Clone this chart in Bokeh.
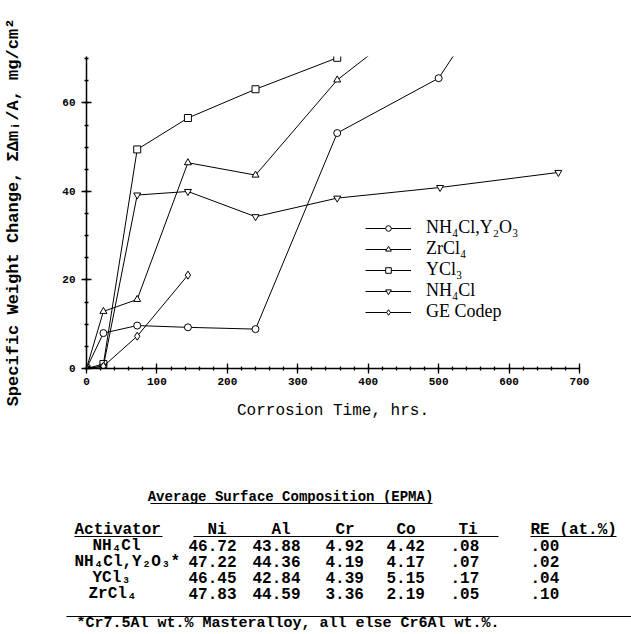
from bokeh.plotting import figure
from bokeh.models import Range1d, SingleIntervalTicker, Legend, LegendItem
from bokeh.embed import file_html
from bokeh.resources import INLINE
from bokeh.core.properties import value

# ---------------- data ----------------
t_y2o3 = [0, 24, 72, 144, 240, 356, 500, 672]
w_y2o3 = [0, 8.0, 9.7, 9.3, 8.9, 53.2, 65.6, 107.0]
t_zr = [0, 24, 72, 144, 240, 356, 500]
w_zr = [0, 12.9, 15.6, 46.5, 43.7, 65.2, 83.0]
t_ycl = [0, 24, 72, 144, 240, 356]
w_ycl = [0, 1.0, 49.5, 56.6, 63.1, 70.2]
t_nh = [0, 24, 72, 144, 240, 356, 502, 670]
w_nh = [0, 0.5, 39.2, 40.0, 34.3, 38.5, 40.9, 44.3]
t_ge = [0, 24, 72, 144]
w_ge = [0, 0.5, 7.3, 21.1]

series_names = ["NH₄Cl,Y₂O₃", "ZrCl₄", "YCl₃", "NH₄Cl", "GE Codep"]

table_title = "Average Surface Composition (EPMA)"
headers = ["Activator", "Ni", "Al", "Cr", "Co", "Ti", "RE (at.%)"]
activators = ["NH₄Cl", "NH₄Cl,Y₂O₃*", "YCl₃", "ZrCl₄"]
ni = [46.72, 47.22, 46.45, 47.83]
al = [43.88, 44.36, 42.84, 44.59]
cr = [4.92, 4.19, 4.39, 3.36]
co = [4.42, 4.17, 5.15, 2.19]
ti = [0.08, 0.07, 0.17, 0.05]
re = [0.00, 0.02, 0.04, 0.10]
footnote = "*Cr7.5Al wt.% Masteralloy, all else Cr6Al wt.%."

# ---------------- chart ----------------
MONO = "Liberation Mono"
SERIF = "Liberation Serif"

p = figure(width=631, height=440, output_backend="svg", toolbar_location=None,
           x_range=Range1d(0, 700), y_range=Range1d(0, 70.5),
           min_border_left=86, min_border_right=52, min_border_top=56,
           min_border_bottom=72)
p.outline_line_color = None
p.grid.visible = False
p.background_fill_color = "white"
p.border_fill_color = "white"

p.xaxis.ticker = SingleIntervalTicker(interval=100, num_minor_ticks=5)
p.yaxis.ticker = SingleIntervalTicker(interval=20, num_minor_ticks=4)
for ax in (p.xaxis, p.yaxis):
    ax.axis_line_width = 1.5
    ax.axis_line_color = "black"
    ax.major_tick_in = 5
    ax.major_tick_out = 5
    ax.minor_tick_in = 2
    ax.minor_tick_out = 2
    ax.major_tick_line_width = 1.3
    ax.minor_tick_line_width = 1.3
    ax.major_tick_line_color = "black"
    ax.minor_tick_line_color = "black"
    ax.major_label_text_font = MONO
    ax.major_label_text_font_style = "bold"
    ax.major_label_text_font_size = "11px"
    ax.major_label_text_color = "black"
    ax.axis_label_text_font = MONO
    ax.axis_label_text_color = "black"

p.xaxis.axis_label = "Corrosion Time, hrs."
p.xaxis.axis_label_text_font_style = "normal"
p.xaxis.axis_label_text_font_size = "16px"
p.xaxis.major_label_standoff = 4
p.xaxis.axis_label_standoff = 14
p.yaxis.axis_label = "Specific Weight Change, ΣΔmᵢ/A, mg/cm²"
p.yaxis.axis_label_text_font_style = "bold"
p.yaxis.axis_label_text_font_size = "17px"
p.yaxis.major_label_standoff = 6
p.yaxis.axis_label_standoff = 36

style = dict(line_color="black", line_width=1)
mk = dict(line_color="black", fill_color="white", line_width=1)

items = []
data = [(t_y2o3, w_y2o3, "circle", 7),
        (t_zr, w_zr, "triangle", 7),
        (t_ycl, w_ycl, "square", 7),
        (t_nh, w_nh, "inverted_triangle", 7),
        (t_ge, w_ge, "diamond", 8)]
for name, (t, w, marker, size) in zip(series_names, data):
    r1 = p.line(t, w, **style)
    r2 = p.scatter(t, w, marker=marker, size=size, **mk)
    items.append(LegendItem(label=name, renderers=[r1, r2]))

legend = Legend(items=items, location=(279, 46), orientation="vertical")
legend.border_line_color = None
legend.background_fill_alpha = 0
legend.padding = 0
legend.margin = 0
legend.spacing = 0
legend.glyph_width = 46
legend.glyph_height = 14
legend.label_height = 14
legend.label_standoff = 15
legend.label_text_font = SERIF
legend.label_text_font_size = "18px"
legend.label_text_color = "black"
p.add_layout(legend)

# ---------------- table (separate root, no frame alignment) ----------------
H2 = 194
tb = figure(width=631, height=H2, output_backend="svg", toolbar_location=None,
            x_range=Range1d(0, 631), y_range=Range1d(H2, 0),
            x_axis_type=None, y_axis_type=None, min_border=0)
tb.outline_line_color = None
tb.grid.visible = False

tf = dict(text_font=value(MONO), text_font_style="bold", text_font_size="16px",
          text_baseline="middle", text_align="left", text_color="black")

# layout positions (px within table panel)
title_y = 56
header_y = 89
row_y = [105, 121, 137, 153]
head_x = [74, 207, 271, 335, 396, 458, 530]
col_x = [188, 252, 325, 386, 450, 530]
row_x = [92, 74, 92, 88]

tb.text(x=[290], y=[title_y], text=[table_title], text_font=value(MONO),
        text_font_style="bold", text_font_size="14px", text_baseline="middle",
        text_align="center", text_color="black")
tb.segment(x0=[150], y0=[title_y + 7], x1=[432], y1=[title_y + 7],
           line_color="black", line_width=1.2)

tb.text(x=head_x, y=[header_y] * len(headers), text=headers, **tf)
tb.segment(x0=[74, 193, 530], y0=[header_y + 7] * 3, x1=[162, 498, 616],
           y1=[header_y + 7] * 3, line_color="black", line_width=1.2)

tb.text(x=row_x, y=row_y, text=activators, **tf)
cols = [[f"{v:.2f}" for v in ni], [f"{v:.2f}" for v in al],
        [f"{v:.2f}" for v in cr], [f"{v:.2f}" for v in co],
        [f"{v:.2f}".lstrip("0") for v in ti], [f"{v:.2f}".lstrip("0") for v in re]]
for cx, vals in zip(col_x, cols):
    tb.text(x=[cx] * len(vals), y=row_y, text=vals, **tf)

tb.segment(x0=[66], y0=[176], x1=[631], y1=[176], line_color="black", line_width=1.2)
tb.text(x=[76], y=[183], text=[footnote], text_font=value(MONO),
        text_font_style="bold", text_font_size="15px", text_baseline="middle",
        text_align="left", text_color="black")

open("out.html", "w").write(file_html([p, tb], INLINE))
